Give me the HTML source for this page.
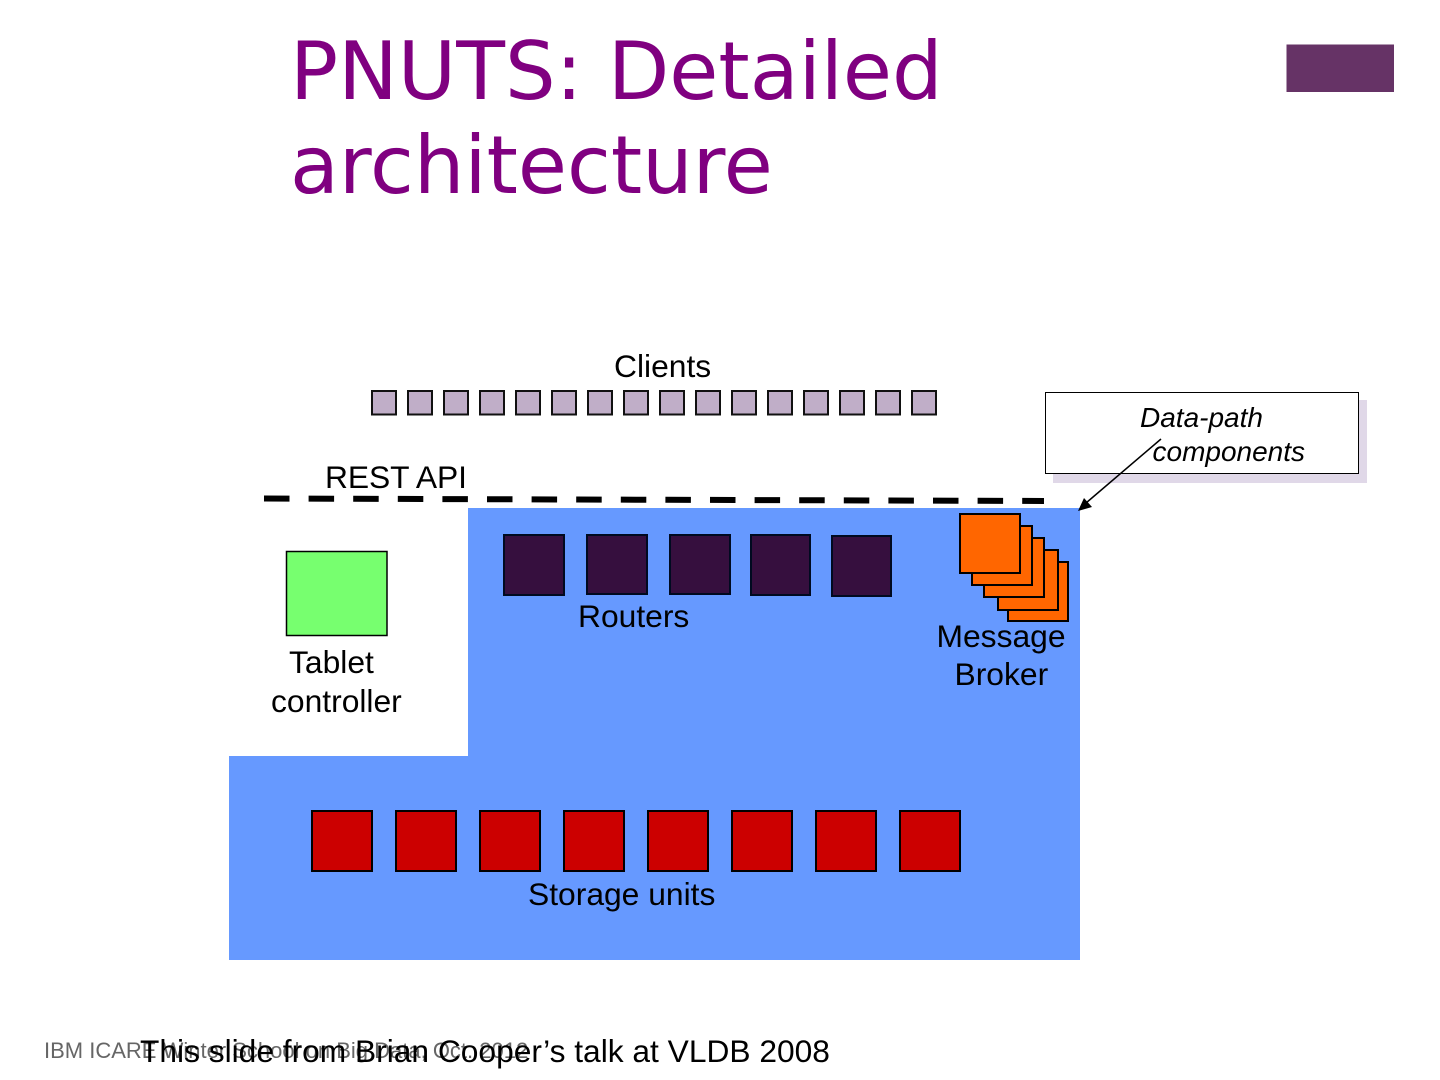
<!DOCTYPE html>
<html>
<head>
<meta charset="utf-8">
<style>
html,body{margin:0;padding:0;background:#fff;width:1440px;height:1080px;overflow:hidden}
svg{display:block;position:absolute;left:0;top:0}
text{font-family:"Liberation Sans",sans-serif;fill:#000}
.t{font-family:"DejaVu Sans",sans-serif;font-size:79.8px;fill:#800080}
.l{font-size:31.8px}
.i{font-size:28px;font-style:italic}
rect.c{fill:#c0aec8;stroke:#111;stroke-width:2}
rect.r{fill:#360f3e;stroke:#000a20;stroke-width:2}
rect.s{fill:#cc0000;stroke:#000;stroke-width:2}
rect.o{fill:#ff6600;stroke:#000;stroke-width:2}
</style>
</head>
<body>
<svg width="1440" height="1080" viewBox="0 0 1440 1080" xmlns="http://www.w3.org/2000/svg">
<text class="t" x="290" y="99">PNUTS: Detailed</text>
<text class="t" x="290" y="193">architecture</text>
<rect x="1286.500" y="44.500" width="107.500" height="47.500" fill="#663366"/>

<path d="M468 508H1080V960H229V756H468Z" fill="#6699ff"/>

<text class="l" x="614" y="377">Clients</text>
<rect class="c" x="372" y="391" width="24" height="23.500"/>
<rect class="c" x="408" y="391" width="24" height="23.500"/>
<rect class="c" x="444" y="391" width="24" height="23.500"/>
<rect class="c" x="480" y="391" width="24" height="23.500"/>
<rect class="c" x="516" y="391" width="24" height="23.500"/>
<rect class="c" x="552" y="391" width="24" height="23.500"/>
<rect class="c" x="588" y="391" width="24" height="23.500"/>
<rect class="c" x="624" y="391" width="24" height="23.500"/>
<rect class="c" x="660" y="391" width="24" height="23.500"/>
<rect class="c" x="696" y="391" width="24" height="23.500"/>
<rect class="c" x="732" y="391" width="24" height="23.500"/>
<rect class="c" x="768" y="391" width="24" height="23.500"/>
<rect class="c" x="804" y="391" width="24" height="23.500"/>
<rect class="c" x="840" y="391" width="24" height="23.500"/>
<rect class="c" x="876" y="391" width="24" height="23.500"/>
<rect class="c" x="912" y="391" width="24" height="23.500"/>

<text class="l" x="325" y="488" textLength="142" lengthAdjust="spacing">REST API</text>
<line x1="264" y1="498.500" x2="1044" y2="501" stroke="#000" stroke-width="6" stroke-dasharray="25.500 19.100"/>

<rect x="1053" y="400" width="314" height="83" fill="#e0d8e8"/>
<rect x="1045.500" y="392.500" width="313" height="81" fill="#fff" stroke="#000" stroke-width="1"/>
<text class="i" x="1140" y="427">Data-path</text>
<text class="i" x="1152.500" y="461">components</text>
<line x1="1161" y1="439" x2="1086" y2="503" stroke="#000" stroke-width="1.500"/>
<polygon points="1078,511 1084,498 1092,507" fill="#000"/>

<rect x="286.500" y="551.500" width="100.500" height="84" fill="#77ff6f" stroke="#000" stroke-width="1.500"/>
<text class="l" x="289" y="673">Tablet</text>
<text class="l" x="271" y="712">controller</text>

<rect class="r" x="504" y="535" width="60" height="60"/>
<rect class="r" x="587" y="535" width="60" height="59"/>
<rect class="r" x="670" y="535" width="60" height="59"/>
<rect class="r" x="751" y="535" width="59" height="60"/>
<rect class="r" x="832" y="536" width="59" height="60"/>
<text class="l" x="578" y="627">Routers</text>

<rect class="o" x="1008" y="562" width="60" height="59"/>
<rect class="o" x="998" y="550" width="60" height="60"/>
<rect class="o" x="984" y="538" width="60" height="59"/>
<rect class="o" x="972" y="526" width="60" height="59"/>
<rect class="o" x="960" y="514" width="60" height="59"/>
<text class="l" x="936.500" y="647">Message</text>
<text class="l" x="954.500" y="685">Broker</text>

<rect class="s" x="312" y="811" width="60" height="60"/>
<rect class="s" x="396" y="811" width="60" height="60"/>
<rect class="s" x="480" y="811" width="60" height="60"/>
<rect class="s" x="564" y="811" width="60" height="60"/>
<rect class="s" x="648" y="811" width="60" height="60"/>
<rect class="s" x="732" y="811" width="60" height="60"/>
<rect class="s" x="816" y="811" width="60" height="60"/>
<rect class="s" x="900" y="811" width="60" height="60"/>
<text class="l" x="528" y="905">Storage units</text>

<text x="44" y="1058" font-size="22" style="fill:#666">IBM ICARE Winter School on Big Data, Oct. 2012</text>
<text x="140" y="1062" font-size="31.730">This slide from Brian Cooper’s talk at VLDB 2008</text>
</svg>
</body>
</html>
